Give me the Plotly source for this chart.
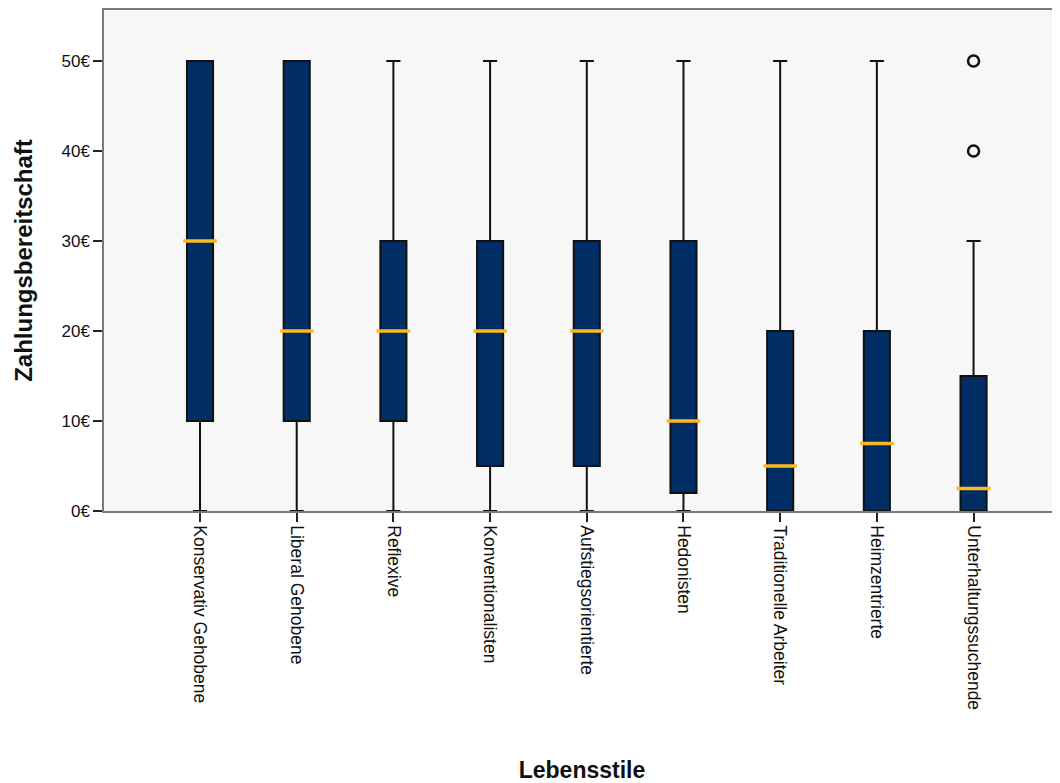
import plotly.graph_objects as go

# =========================
# DATA
# =========================
categories = [
    "Konservativ Gehobene", "Liberal Gehobene", "Reflexive", "Konventionalisten",
    "Aufstiegsorientierte", "Hedonisten", "Traditionelle Arbeiter", "Heimzentrierte",
    "Unterhaltungssuchende",
]
lower = [0, 0, 0, 0, 0, 0, 0, 0, 0]
q1 = [10, 10, 10, 5, 5, 2, 0, 0, 0]
median = [30, 20, 20, 20, 20, 10, 5, 7.5, 2.5]
q3 = [50, 50, 30, 30, 30, 30, 20, 20, 15]
upper = [50, 50, 50, 50, 50, 50, 50, 50, 30]

outlier_cat = ["Unterhaltungssuchende", "Unterhaltungssuchende"]
outlier_val = [50, 40]

y_ticks = [0, 10, 20, 30, 40, 50]
y_labels = ["0€", "10€", "20€", "30€", "40€", "50€"]

NAVY = "#002D64"
GOLD = "#FDB825"
FONT = "Liberation Sans, Arial, sans-serif"

fig = go.Figure()

fig.add_trace(go.Box(
    x=categories, q1=q1, median=median, q3=q3,
    lowerfence=lower, upperfence=upper,
    fillcolor=NAVY,
    line=dict(color="#111111", width=2),
    width=0.27, whiskerwidth=0.54,
    boxpoints=False, showlegend=False, hoverinfo="skip",
))

# medians in gold on top of the boxes
fig.add_trace(go.Scatter(
    x=categories, y=median, mode="markers",
    marker=dict(symbol="line-ew", size=24, line=dict(color=GOLD, width=3.5)),
    showlegend=False, hoverinfo="skip",
))

# outliers
fig.add_trace(go.Scatter(
    x=outlier_cat, y=outlier_val, mode="markers",
    marker=dict(symbol="circle-open", size=11, color="#111111", line=dict(width=2.5)),
    showlegend=False, hoverinfo="skip",
))

# page has an 8px body margin, so the figure is a bit smaller than the window
fig.update_layout(
    width=1052, height=775,
    margin=dict(l=96, r=0, t=2, b=272),
    paper_bgcolor="white",
    plot_bgcolor="#F7F7F7",
    font=dict(family=FONT, size=17, color="#111111"),
    xaxis=dict(
        type="category", categoryorder="array", categoryarray=categories,
        range=[-0.993, 8.894],
        showline=True, linecolor="#7A7A7A", linewidth=1.5, mirror=True,
        ticks="outside", ticklen=9, tickwidth=2, tickcolor="#222222",
        tickangle=90, tickfont=dict(size=17.5),
        showgrid=False, zeroline=False,
        title=dict(text="<b>Lebensstile</b>", font=dict(size=23), standoff=53),
    ),
    yaxis=dict(
        range=[0, 55.67],
        tickvals=y_ticks, ticktext=y_labels,
        showline=True, linecolor="#7A7A7A", linewidth=1.5,
        ticks="outside", ticklen=9, tickwidth=2, tickcolor="#222222",
        tickfont=dict(size=17),
        showgrid=False, zeroline=False,
        title=dict(text="<b>Zahlungsbereitschaft</b>", font=dict(size=24), standoff=22),
    ),
)

fig.write_html("out.html")
